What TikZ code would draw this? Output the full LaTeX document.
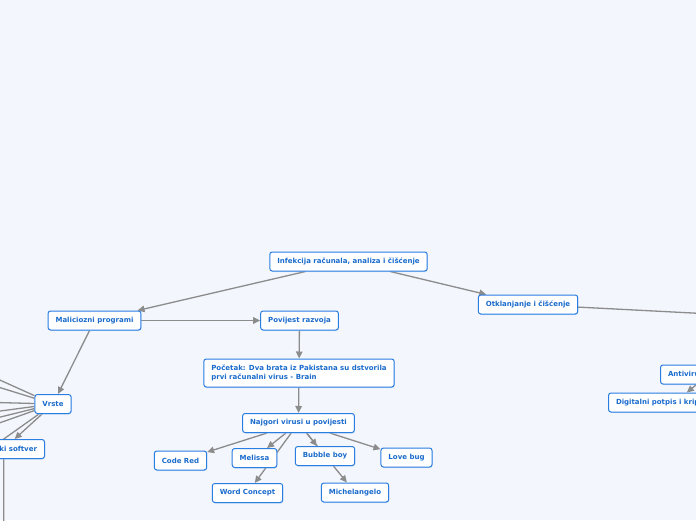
\documentclass[tikz,border=0pt]{standalone}
\usepackage{fontspec}
\setmainfont{DejaVu Sans}
\usetikzlibrary{arrows.meta,shadows}

\definecolor{mapbg}{HTML}{F3F6FD}
\definecolor{mapblue}{HTML}{2A7DE1}
\definecolor{maptext}{HTML}{1A6BCC}
\definecolor{mapline}{HTML}{8C8C8C}

\pgfdeclarelayer{background}
\pgfsetlayers{background,main}

\tikzset{
  topic/.style={draw=mapblue, line width=1pt, fill=white, rounded corners=2.5pt,
    text=maptext, font=\fontsize{7}{9.5}\selectfont\bfseries,
    inner xsep=7.5pt, minimum height=19pt,
    drop shadow={shadow xshift=0.6pt, shadow yshift=-1pt, fill=mapblue!40, opacity=0.5}},
  link/.style={draw=mapline, line width=1.3pt, -{Triangle[length=7pt,width=6.5pt]}},
}

\begin{document}
\begin{tikzpicture}[x=1pt,y=-1pt]
                        \useasboundingbox (0,0) rectangle (696,520);
                        \clip (0,0) rectangle (696,520);

                        % Nodes
                        \node[topic] (infekcija) at (348.5,261.5) {Infekcija računala, analiza i čišćenje};
                        \node[topic] (maliciozni) at (94.5,320.5) {Maliciozni programi};
                        \node[topic] (povijest) at (299.5,320.5) {Povijest razvoja};
                        \node[topic] (otklanjanje) at (528,304.5) {Otklanjanje i čišćenje};
                        \node[topic, align=left, minimum height=28pt] (pocetak) at (299,373) {Početak: Dva brata iz Pakistana su dstvorila\\prvi računalni virus - Brain};
                        \node[topic] (najgori) at (298.5,423) {Najgori virusi u povijesti};
                        \node[topic] (codered) at (180.5,460.5) {Code Red};
                        \node[topic] (melissa) at (254.5,458) {Melissa};
                        \node[topic] (bubbleboy) at (325,456) {Bubble boy};
                        \node[topic] (lovebug) at (406.5,457.5) {Love bug};
                        \node[topic] (wordconcept) at (247.5,493) {Word Concept};
                        \node[topic] (michelangelo) at (355,492.5) {Michelangelo};
                        \node[topic] (vrste) at (53,404) {Vrste};
                        \node[topic, anchor=east] (spijunski) at (45,449) {Špijunski softver};
                        \node[topic, anchor=west] (antivirus) at (660,374.5) {Antivirusni programi};
                        \node[topic, anchor=west] (digitalni) at (608,402.5) {Digitalni potpis i kriptografija};

                        % Free ends outside the frame
                        \coordinate (vrste1) at (-60,353);
                        \coordinate (vrste2) at (-60,369);
                        \coordinate (vrste3) at (-60,401);
                        \coordinate (vrste4) at (-60,419);
                        \coordinate (vrste5) at (-60,432);
                        \coordinate (vrste6) at (-60,444);
                        \coordinate (vrste7) at (-30,463);
                        \coordinate (spijunskidown) at (4,600);
                        \coordinate (otklanjanjeright) at (760,316.5);

                        % Edges
                        \begin{pgfonlayer}{background}
                        \fill[mapbg] (0,0) rectangle (696,520);
                        \clip (0,0) rectangle (696,520);

                        \draw[link] (infekcija) -- (maliciozni);
                        \draw[link] (infekcija) -- (otklanjanje);
                        \draw[link] (maliciozni) -- (povijest);
                        \draw[link] (maliciozni) -- (vrste);
                        \draw[link] (povijest) -- (pocetak);
                        \draw[link] (pocetak) -- (najgori);

                        \draw[link] (najgori) -- (codered);
                        \draw[link] (najgori) -- (melissa);
                        \draw[link] (najgori) -- (wordconcept);
                        \draw[link] (najgori) -- (bubbleboy);
                        \draw[link] (najgori) -- (michelangelo);
                        \draw[link] (najgori) -- (lovebug);

                        \draw[link] (vrste) -- (vrste1);
                        \draw[link] (vrste) -- (vrste2);
                        \draw[link] (vrste) -- (vrste3);
                        \draw[link] (vrste) -- (vrste4);
                        \draw[link] (vrste) -- (vrste5);
                        \draw[link] (vrste) -- (vrste6);
                        \draw[link] (vrste) -- (vrste7);
                        \draw[link] (vrste) -- (spijunski);
                        \draw[link] (spijunski) -- (spijunskidown);

                        \draw[link] (otklanjanje) -- (otklanjanjeright);
                        \draw[link] (antivirus) -- (digitalni);
                        \end{pgfonlayer}
                    \end{tikzpicture}
\end{document}
